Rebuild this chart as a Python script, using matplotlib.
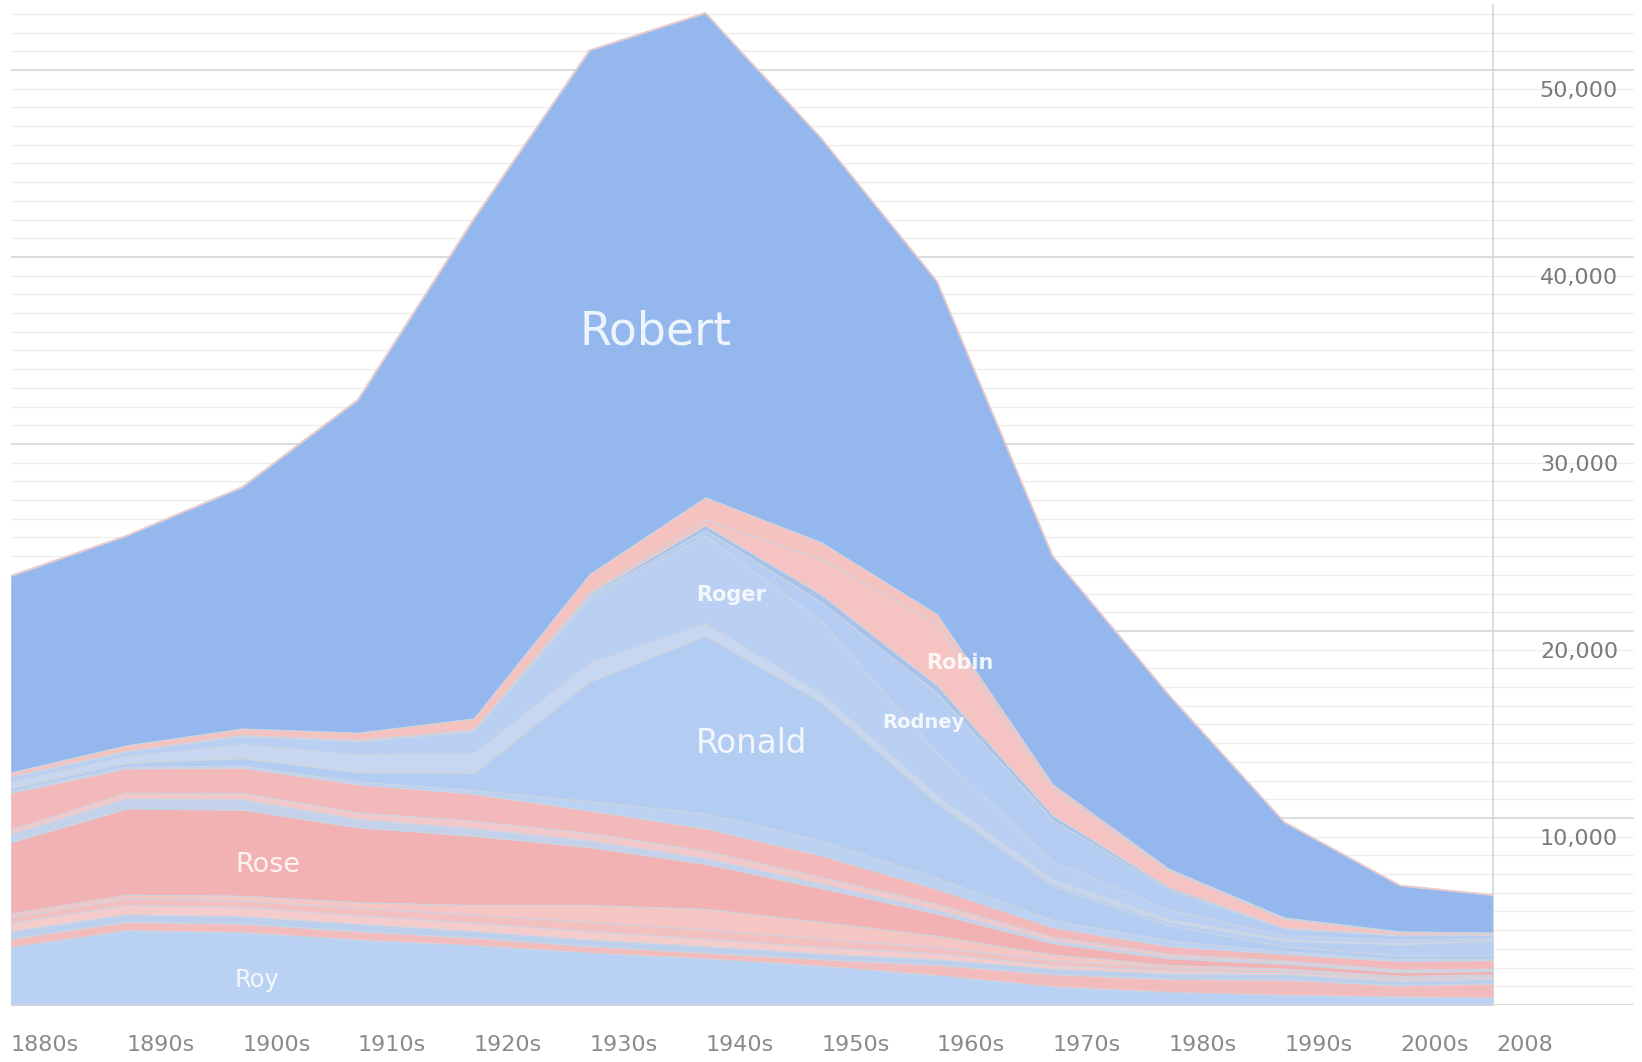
import numpy as np
import matplotlib
matplotlib.use("Agg")
import matplotlib.pyplot as plt
import matplotlib.transforms as mtransforms

# decade start years (last point is 2008)
years = [1880, 1890, 1900, 1910, 1920, 1930, 1940, 1950, 1960, 1970, 1980, 1990, 2000, 2008]

# values in thousands (stack order bottom -> top)
roy      = [3.1, 4.0, 3.9, 3.5, 3.2, 2.8, 2.5, 2.1, 1.6, 1.0, 0.7, 0.55, 0.45, 0.4]
roxanne  = [0.45, 0.45, 0.45, 0.45, 0.4, 0.35, 0.3, 0.35, 0.55, 0.65, 0.7, 0.8, 0.6, 0.75]
ross     = [0.4, 0.4, 0.4, 0.4, 0.35, 0.35, 0.35, 0.3, 0.3, 0.3, 0.3, 0.3, 0.25, 0.25]
rosie    = [0.45, 0.5, 0.5, 0.45, 0.45, 0.45, 0.4, 0.35, 0.3, 0.2, 0.15, 0.1, 0.1, 0.1]
rosetta  = [0.3, 0.35, 0.35, 0.4, 0.45, 0.5, 0.5, 0.45, 0.35, 0.25, 0.15, 0.1, 0.08, 0.06]
rosemary = [0.2, 0.2, 0.25, 0.3, 0.5, 0.9, 1.1, 0.9, 0.6, 0.3, 0.15, 0.1, 0.08, 0.06]
rose     = [3.8, 4.6, 4.6, 4.0, 3.7, 3.1, 2.4, 1.8, 1.2, 0.6, 0.35, 0.25, 0.2, 0.2]
roscoe   = [0.45, 0.55, 0.55, 0.45, 0.4, 0.35, 0.3, 0.25, 0.2, 0.15, 0.1, 0.08, 0.06, 0.05]
rosalie  = [0.25, 0.3, 0.35, 0.35, 0.4, 0.4, 0.4, 0.35, 0.3, 0.2, 0.15, 0.1, 0.08, 0.08]
rosa     = [1.95, 1.3, 1.35, 1.5, 1.45, 1.2, 1.2, 1.15, 0.8, 0.5, 0.4, 0.35, 0.45, 0.45]
ronnie   = [0.1, 0.1, 0.1, 0.15, 0.2, 0.5, 0.8, 0.8, 0.6, 0.4, 0.3, 0.15, 0.1, 0.08]
ronald   = [0.15, 0.2, 0.4, 0.5, 0.9, 6.4, 9.5, 7.4, 4.0, 1.8, 0.8, 0.25, 0.2, 0.2]
roman    = [0.05, 0.05, 0.05, 0.05, 0.05, 0.05, 0.05, 0.05, 0.1, 0.15, 0.2, 0.3, 0.6, 0.75]
roland   = [0.3, 0.3, 0.7, 0.9, 1.0, 0.95, 0.6, 0.4, 0.3, 0.2, 0.15, 0.1, 0.08, 0.06]
roger    = [0.25, 0.25, 0.45, 0.7, 1.2, 3.5, 4.7, 3.9, 2.3, 1.0, 0.5, 0.2, 0.15, 0.1]
rodney   = [0.02, 0.02, 0.02, 0.05, 0.05, 0.1, 0.3, 1.0, 3.2, 2.2, 1.1, 0.35, 0.25, 0.15]
robin_m  = [0.02, 0.02, 0.02, 0.02, 0.03, 0.1, 0.25, 0.4, 0.4, 0.25, 0.1, 0.05, 0.03, 0.02]
robin_f  = [0, 0, 0, 0, 0, 0.05, 0.3, 1.9, 3.3, 1.4, 0.9, 0.5, 0.15, 0.1]
roberta  = [0.2, 0.3, 0.35, 0.4, 0.6, 1.0, 1.2, 0.9, 0.5, 0.25, 0.1, 0.05, 0.03, 0.02]
robert   = [10.5, 11.2, 12.9, 17.8, 26.7, 28.0, 25.9, 21.6, 17.8, 12.2, 9.3, 5.1, 2.45, 2.0]

series = [roy, roxanne, ross, rosie, rosetta, rosemary, rose, roscoe, rosalie, rosa,
          ronnie, ronald, roman, roland, roger, rodney, robin_m, robin_f, roberta, robert]
colors = ['#b9d1f3', '#f3bcbc', '#bcd0ee', '#f5cccc', '#f3c0c0', '#f5c6c4', '#f2b2b4',
          '#c3d2ea', '#f2c9cb', '#f3b9ba', '#bcd2f3', '#b3ccf2', '#b8cff2', '#c7d7f1',
          '#bad0f2', '#b5cdf2', '#a9c2ea', '#f5c4c2', '#f4c3c0', '#94b8ee']

xtick_labels = ['1880s', '1890s', '1900s', '1910s', '1920s', '1930s', '1940s',
                '1950s', '1960s', '1970s', '1980s', '1990s', '2000s', '2008']
ytick_vals = [10000, 20000, 30000, 40000, 50000]

fig = plt.figure(figsize=(16.42, 10.62), dpi=100)
ax = fig.add_axes([10.5 / 1642, 57 / 1062, (1634 - 10.5) / 1642, 1005 / 1062])
ax.set_xlim(1880, 2020.2)
ax.set_ylim(0, 53740)

# grid lines
for v in range(1000, 54000, 1000):
    if v % 10000 == 0:
        ax.axhline(v, color='#d2d2d2', lw=1.1, zorder=0)
    else:
        ax.axhline(v, color='#ededed', lw=0.9, zorder=0)
ax.axvline(2008, color='#d2d2d2', lw=1.1, zorder=0, ymax=0.995)

data = np.array(series) * 1000
ax.stackplot(years, data, colors=colors, edgecolor='#cdd5e2', linewidth=0.7, zorder=2)
# faint pinkish rim on top of the stack
ax.plot(years, data.sum(axis=0), color='#e9c9cc', lw=1.3, zorder=3)
ax.axhline(0, color='#d8d8d8', lw=1.2, zorder=3)

# name labels
lab = dict(color='white', alpha=0.85, ha='center', va='center', zorder=5)
ax.text(1935.7, 36000, 'Robert', fontsize=33, **lab)
ax.text(1944.0, 14000, 'Ronald', fontsize=23.5, **lab)
ax.text(1942.2, 21900, 'Roger', fontsize=15, fontweight='bold', **lab)
ax.text(1962.0, 18300, 'Robin', fontsize=15, fontweight='bold', **lab)
ax.text(1958.8, 15100, 'Rodney', fontsize=14, fontweight='bold', **lab)
ax.text(1902.2, 7500, 'Rose', fontsize=19.5, **lab)
ax.text(1901.3, 1330, 'Roy', fontsize=17.5, **lab)

# axes cosmetics
for s in ax.spines.values():
    s.set_visible(False)
ax.set_xticks([])
ax.set_yticks([])

# x labels, left aligned at the decade start
trans_x = mtransforms.blended_transform_factory(ax.transData, fig.transFigure)
for yr, t in zip(years, xtick_labels):
    xx = yr if yr != 2008 else 2008.3
    ax.text(xx, 1 - 1045 / 1062, t, transform=trans_x, ha='left', va='center',
            fontsize=16, color='#8a8a8a')

# y labels on the right, just below each grid line
trans_y = mtransforms.blended_transform_factory(fig.transFigure, ax.transData)
for v in ytick_vals:
    ax.text(1618 / 1642, v - 1100, f'{v:,}', transform=trans_y, ha='right', va='center',
            fontsize=16, color='#7a7a7a')

fig.savefig('out.png', dpi=100)
